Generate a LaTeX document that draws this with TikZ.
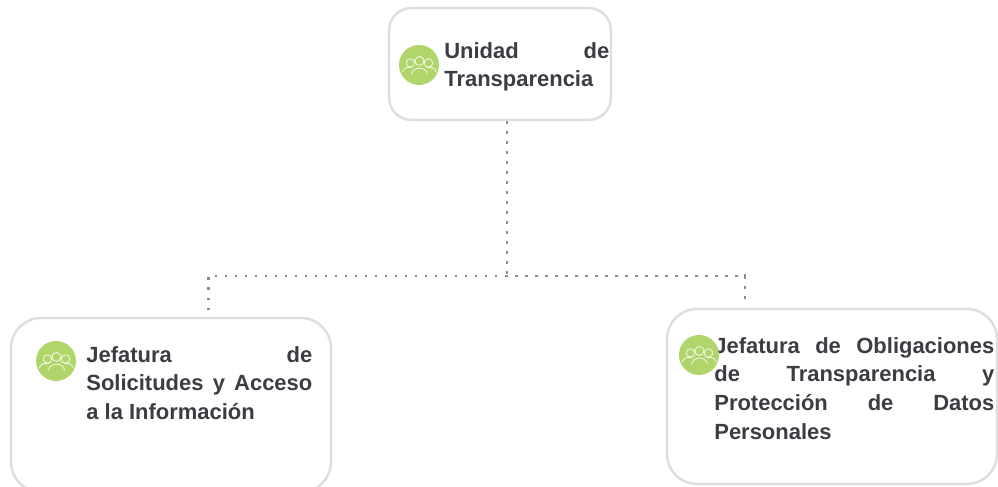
\documentclass[tikz,border=0pt]{standalone}
\usepackage{fontspec}
\setmainfont{Liberation Sans}
\tolerance=10000
\hyphenpenalty=10000
\definecolor{iconGreen}{HTML}{B0D56A}
\definecolor{labelGray}{HTML}{3C3C45}
\definecolor{linkGray}{HTML}{8C8C8C}
\tikzset{
    unitbox/.style={draw=black!13, line width=1.4pt, fill=white, rounded corners=#1, inner sep=0pt},
    unitlabel/.style={anchor=north west, inner sep=0pt, align=justify, text=labelGray,
        font=\fontsize{12.5pt}{16.35pt}\selectfont\bfseries},
    unitlink/.style={draw=linkGray, line width=1.3pt, dash pattern=on 1.4pt off 4.3pt},
    unitcircle/.style={circle, fill=iconGreen, minimum size=.8cm, inner sep=0pt},
    pics/people/.style={code={
        \draw[white!85!iconGreen, line width=.45pt, fill=none]
            (-.17,.04) circle (.085) (.01,.08) circle (.09) (.19,.04) circle (.085)
            (-.15,-.19) .. controls (-.13,-.02) and (.15,-.02) .. (.17,-.19)
            (-.34,-.15) .. controls (-.3,-.05) and (-.24,-.04) .. (-.14,-.05)
            (.35,-.15) .. controls (.31,-.05) and (.25,-.04) .. (.16,-.05);
    }}
}
\begin{document}
\begin{tikzpicture}
        \useasboundingbox (0,0) rectangle (19.96,9.74);
        \clip (0,0) rectangle (19.96,9.74);

        \node[unitbox=.45cm, minimum width=4.44cm, minimum height=2.24cm] at (10, 8.46)(top){};
        \node[unitbox=.6cm, minimum width=6.4cm, minimum height=3.48cm] at (3.42, 1.64)(left){};
        \node[unitbox=.6cm, minimum width=6.6cm, minimum height=3.5cm] at (16.64, 1.81)(right){};

        \node[unitlabel, text width=3.3cm] at (8.88, 8.9)(toplabel){Unidad de Transparencia};
        \node[unitlabel, text width=4.52cm] at (1.72, 2.82)(leftlabel){Jefatura de Solicitudes y Acceso a la Información};
        \node[unitlabel, text width=5.6cm] at (14.28, 3.0)(rightlabel){Jefatura de Obligaciones de Transparencia y Protección de Datos Personales};

        \node[unitcircle] at (8.38, 8.44)(topicon){};
        \node[unitcircle] at (1.12, 2.52)(lefticon){};
        \node[unitcircle] at (13.98, 2.64)(righticon){};
        \pic at (topicon){people};
        \pic at (lefticon){people};
        \pic at (righticon){people};

        % dotted tree
        \coordinate (hub) at (10.14, 4.22);
        \coordinate (hubend) at (10.14, 4.12);
        \coordinate (leftdrop) at (4.17, 4.22);
        \coordinate (leftend) at (4.17, 3.54);
        \coordinate (rightdrop) at (14.9, 4.22);
        \coordinate (rightend) at (14.9, 3.64);

        \draw[unitlink] (top.south -| hub) -- (hubend);
        \draw[unitlink] (leftend) -- (leftdrop) -- (rightdrop) -- (rightend);
        \draw[unitlink] (rightdrop) -- (14.9, 4.3);
    \end{tikzpicture}
\end{document}
